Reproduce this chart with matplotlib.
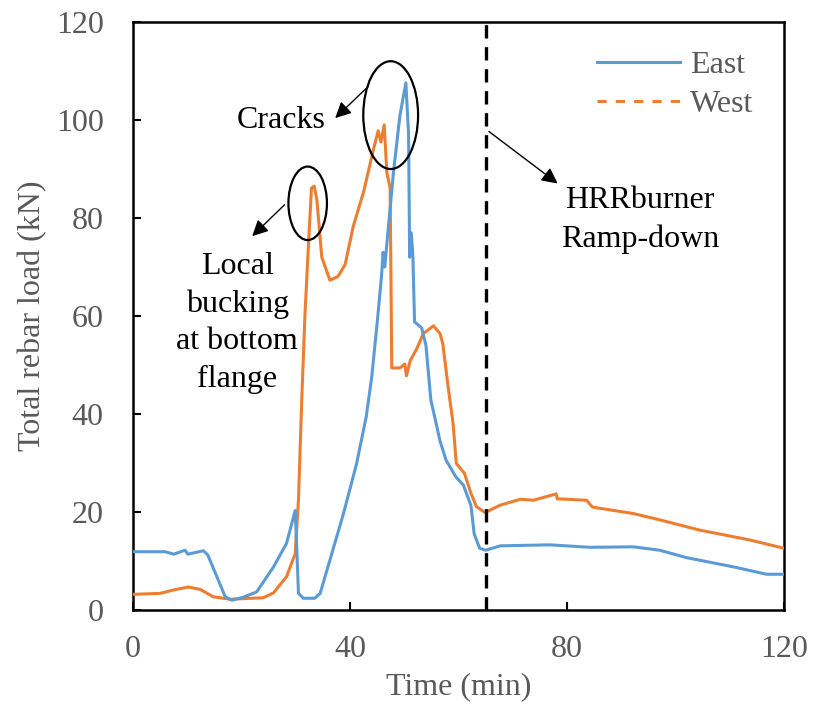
import numpy as np
import matplotlib
matplotlib.use('Agg')
import matplotlib.pyplot as plt
from matplotlib.lines import Line2D
from matplotlib.patches import Ellipse

plt.rcParams['font.family'] = ['Liberation Serif', 'DejaVu Serif']

#Data
east_t = [0, 5.9, 7.5, 9.6, 10.1, 13.0, 13.8, 17.0, 18.2, 20.3, 22.8, 25.9, 28.3, 29.9, 30.2,
          30.5, 31.4, 33.5, 34.5, 36.3, 38.8, 41.2, 43.0, 44.0, 45.0, 45.8, 46.1, 46.4, 48.0,
          49.2, 50.3, 50.8, 51.0, 51.3, 51.6, 51.9, 53.2, 54.0, 54.9, 56.6, 57.7, 59.5, 60.9,
          62.3, 62.9, 63.9, 65.0, 67.7, 76.9, 84.2, 92.2, 97.1, 102, 110.7, 116.8, 120]
east_load = [11.9, 11.9, 11.4, 12.2, 11.4, 12.1, 11.2, 2.7, 2.0, 2.6, 3.7, 8.8, 13.6, 20.3, 12.2,
             3.4, 2.4, 2.4, 3.4, 10.2, 19.7, 29.8, 39.5, 47.5, 58.5, 68, 73, 70, 89.2,
             100.9, 107.6, 97, 72, 77, 72, 58.8, 57.6, 54, 42.9, 34.5, 30.6, 27.2, 25.5,
             21.3, 15.5, 12.6, 12.2, 13.1, 13.3, 12.8, 12.9, 12.2, 10.7, 8.8, 7.3, 7.3]

west_t = [0, 5, 7.5, 10.2, 12.4, 14.8, 17.9, 24.0, 25.9, 28.3, 29.9, 30.5, 31.1, 31.7, 32.3,
          32.9, 33.4, 33.9, 34.8, 36.3, 37.8, 39.1, 40.6, 42.5, 44.3, 45.2, 45.7, 46.3, 46.8,
          47.4, 47.7, 49.2, 50.1, 50.4, 51.1, 52.3, 53.5, 55.4, 56.6, 57.1, 58.0, 59.0, 59.6,
          61.1, 62.3, 63.3, 64.9, 67.7, 71.4, 73.8, 78.0, 78.2, 83.6, 84.7, 92.2, 97.1, 104.5,
          113.7, 120]
west_load = [3.2, 3.4, 4.1, 4.7, 4.2, 2.7, 2.2, 2.5, 3.5, 6.8, 11.5, 22.4, 42.7, 60.3, 73.6,
             86.1, 86.5, 83.7, 72, 67.3, 68.1, 70.5, 78.3, 85.3, 93.9, 97.8, 95.5, 99, 89.2,
             86.1, 49.4, 49.4, 50.2, 47.8, 50.9, 53.3, 56.4, 58, 56.4, 54.4, 46.3, 38.1, 29.9,
             27.9, 23.8, 21.1, 19.9, 21.4, 22.6, 22.4, 23.7, 22.7, 22.4, 21, 19.7, 18.4, 16.3,
             14.3, 12.6]

ramp_down_t = 65

blue = '#5B9BD5'
orange = '#ED7D31'
gray = '#595959'

fig = plt.figure(figsize=(8.13, 7.17), dpi=100)
ax = fig.add_axes([0.1636, 0.1492, 0.8007, 0.8201])

ax.plot(west_t, west_load, color=orange, lw=2.2, zorder=3)
ax.plot(east_t, east_load, color=blue, lw=2.2, zorder=4)
ax.axvline(ramp_down_t, color='black', lw=2.4, dashes=(4, 2.6), zorder=5)

#Ellipses and arrows
ax.add_patch(Ellipse((32.2, 83), 7.1, 15, fill=False, ec='black', lw=1.6, zorder=6))
ax.add_patch(Ellipse((47.5, 101), 10.1, 22, fill=False, ec='black', lw=1.6, zorder=6))
arr = dict(arrowstyle='-|>', color='black', lw=1.0, mutation_scale=24)
ax.annotate('', xy=(21.6, 75.9), xytext=(28.3, 83.1), arrowprops=arr)
ax.annotate('', xy=(36.9, 100), xytext=(43.7, 107.2), arrowprops=arr)
ax.annotate('', xy=(78.7, 86.7), xytext=(65.2, 98), arrowprops=arr)

ax.text(27.3, 100, 'Cracks', fontsize=23, ha='center', va='center')
ax.text(19.2, 58.6, 'Local\nbucking\nat bottom\nflange', fontsize=23, ha='center', va='center',
        linespacing=1.38)
ax.text(93.5, 79.6, 'HRRburner\nRamp-down', fontsize=23, ha='center', va='center',
        linespacing=1.38)

ax.set_xlim(0, 120)
ax.set_ylim(0, 120)
ax.set_xticks([0, 40, 80, 120])
ax.set_yticks(np.arange(0, 121, 20))
ax.tick_params(direction='in', length=6, width=1.5, labelsize=23, labelcolor=gray)
ax.tick_params(axis='x', pad=18)
ax.tick_params(axis='y', pad=21)
for s in ax.spines.values():
    s.set_linewidth(1.8)
ax.set_xlabel('Time (min)', fontsize=23, color=gray, labelpad=6)
ax.set_ylabel('Total rebar load (kN)', fontsize=23, color=gray, labelpad=6)

handles = [Line2D([], [], color=blue, lw=2.2),
           Line2D([], [], color=orange, lw=2.2, dashes=(3, 3))]
leg = ax.legend(handles, ['East', 'West'], loc='upper right', frameon=False, fontsize=23,
                handlelength=2.6, handletextpad=0.3, labelspacing=0.3,
                bbox_to_anchor=(0.997, 1.0))
for t in leg.get_texts():
    t.set_color(gray)

fig.savefig('out.png', dpi=100)
